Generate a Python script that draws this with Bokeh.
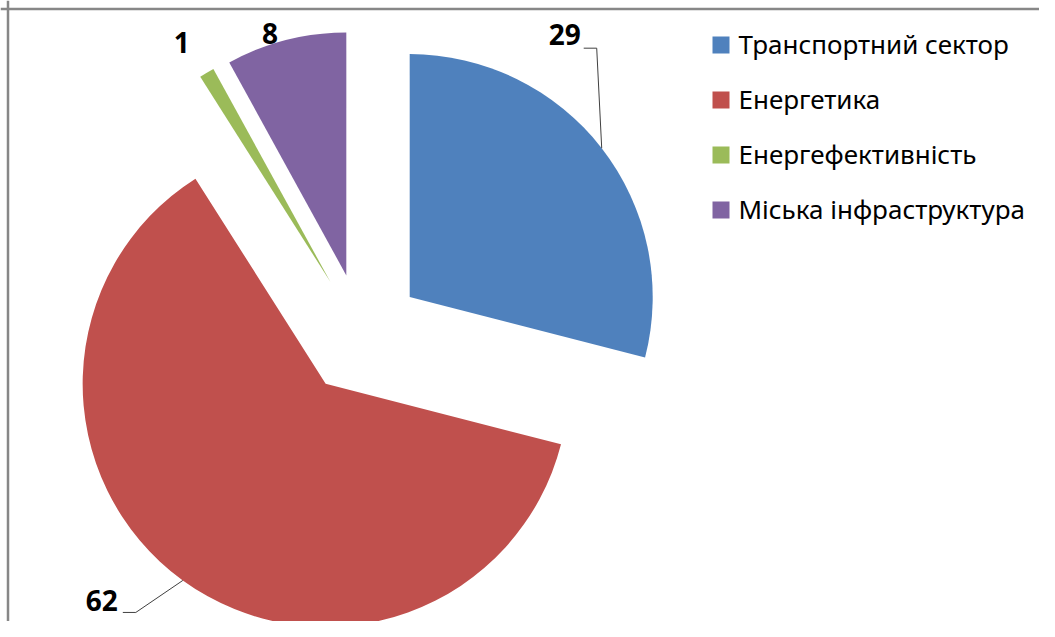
import numpy as np
from bokeh.plotting import figure
from bokeh.models import Range1d, Span
from bokeh.embed import file_html
from bokeh.resources import INLINE
from bokeh.core.properties import value

# ---- data ----
categories = ["Транспортний сектор", "Енергетика", "Енергефективність", "Міська інфраструктура"]
values = [29, 62, 1, 8]
colors = ["#4F81BD", "#C0504D", "#9BBB59", "#8064A2"]
labels = [str(v) for v in values]

# ---- layout (figure pixels, origin top-left) ----
W, H = 1039, 621


def Y(py):
    return H - py


p = figure(width=W, height=H, output_backend="svg", toolbar_location=None,
           x_range=Range1d(0, W), y_range=Range1d(0, H),
           x_axis_type=None, y_axis_type=None, min_border=0)
p.grid.visible = False
p.outline_line_color = None
p.background_fill_color = "white"
p.border_fill_color = "white"

cx, cy = 361, Y(334)
R = 243
explode = 61

vals = np.array(values, dtype=float)
frac = vals / vals.sum()
ends = np.cumsum(frac) * 2 * np.pi
starts = ends - frac * 2 * np.pi
mids = (starts + ends) / 2

wx = cx + explode * np.sin(mids)
wy = cy + explode * np.cos(mids)
p.wedge(x=wx, y=wy, radius=R, start_angle=np.pi / 2 - starts, end_angle=np.pi / 2 - ends,
        direction="clock", fill_color=colors, line_color=None)

# slice outer points at bisector
ex = wx + R * np.sin(mids)
ey = wy + R * np.cos(mids)

# label offsets (px: dx right, dy down) relative to outer point
lab_off = [(-37, -114), (-81, 20), (-25, -30), (-16, -7)]
lx = [ex[i] + lab_off[i][0] for i in range(4)]
ly = [ey[i] - lab_off[i][1] for i in range(4)]
p.text(x=lx, y=ly, text=labels, text_align="center", text_baseline="alphabetic",
       text_font=value("Noto Sans"), text_font_style="bold", text_font_size="28px",
       text_color="black")

# leader lines for the two large slices
leader = {0: [(-5, -100), (-18, -100)], 1: [(-47, 32), (-60, 32)]}
xs, ys = [], []
for i, pts in leader.items():
    xs.append([ex[i]] + [ex[i] + d[0] for d in pts])
    ys.append([ey[i]] + [ey[i] - d[1] for d in pts])
p.multi_line(xs=xs, ys=ys, line_color="#404040", line_width=1)

# legend
sq_x, sq_y0, step = 720.5, 44.5, 55
p.rect(x=[sq_x] * 4, y=[Y(sq_y0 + step * i) for i in range(4)], width=17, height=17,
       width_units="screen", height_units="screen", fill_color=colors, line_color=None)
p.text(x=[738] * 4, y=[Y(43 + step * i) for i in range(4)], text=categories,
       text_align="left", text_baseline="alphabetic", text_font=value("Noto Sans"),
       text_font_size="26px", text_color="black")

# chart border (top and left visible)
p.add_layout(Span(location=Y(8.5), dimension="width", line_color="#878787", line_width=2.5))
p.add_layout(Span(location=7.5, dimension="height", line_color="#878787", line_width=2.5))

open("out.html", "w").write(file_html(p, INLINE))
